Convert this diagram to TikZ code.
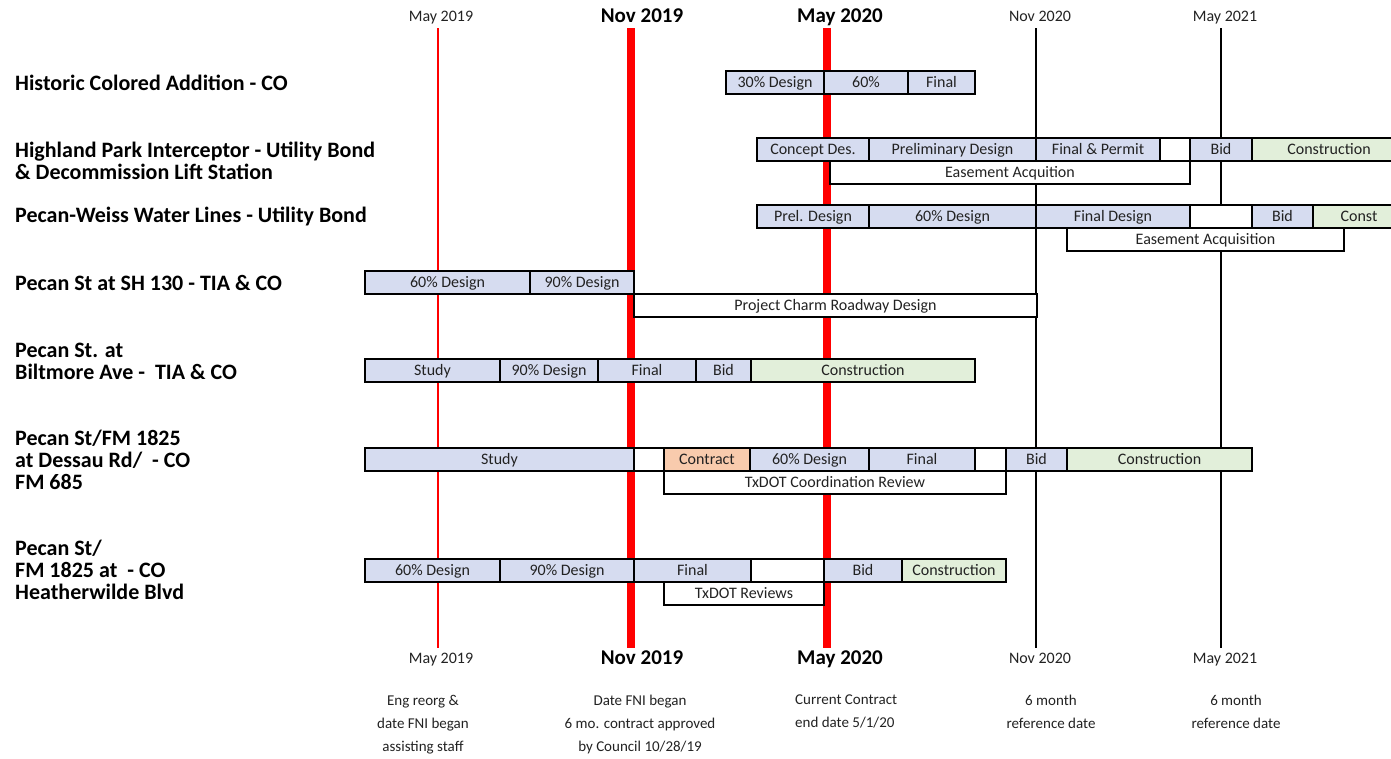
\documentclass[tikz,border=0pt]{standalone}
\usepackage{fontspec}
\setmainfont{Carlito}
\definecolor{barblue}{HTML}{D6DCF0}
\definecolor{bargreen}{HTML}{E2EFDA}
\definecolor{barorange}{HTML}{F8CBAD}
\definecolor{txt}{HTML}{222222}
\newcommand\gbar[6]{%
  \pgfmathsetmacro\gbW{#3-#2}%
  \pgfmathsetmacro\gbX{(#2+#3)/2}%
  \pgfmathsetmacro\gbY{#4+11.5}%
  \node[barbox,fill=#5,minimum width=\gbW pt] (#1) at (\gbX,\gbY) {#6};}
\tikzset{
  barbox/.style={draw=black,line width=2.6pt,minimum height=23pt,inner sep=0pt,outer sep=0pt,
    text height=11.5pt,text depth=1.3pt,
    font=\fontsize{16}{18}\selectfont,text=txt},
  proj/.style={anchor=west,align=left,inner sep=0pt,font=\bfseries\fontsize{22}{22}\selectfont},
  datesm/.style={inner sep=0pt,text height=11.5pt,text depth=1.3pt,font=\fontsize{16}{18}\selectfont,text=txt},
  datebig/.style={inner sep=0pt,text height=14pt,text depth=1.5pt,font=\bfseries\fontsize{21}{22}\selectfont},
  note/.style={inner sep=0pt,align=center,font=\fontsize{15}{23}\selectfont,text=txt},
  redthin/.style={draw=red,line width=2.5pt},
  redthick/.style={draw=red,line width=8pt},
  blackline/.style={draw=black,line width=2pt}
}
\begin{document}
\begin{tikzpicture}[x=1pt,y=-1pt]
\useasboundingbox (0,0) rectangle (1391,758);
\clip (0,0) rectangle (1391,758);
% date labels top
\node[datesm] (t1) at (441,16) {May 2019};
\node[datebig] (t2) at (642,16) {Nov 2019};
\node[datebig] (t3) at (840,16) {May 2020};
\node[datesm] (t4) at (1040,16) {Nov 2020};
\node[datesm] (t5) at (1225,16) {May 2021};
% date labels bottom
\node[datesm] (u1) at (441,658) {May 2019};
\node[datebig] (u2) at (642,658) {Nov 2019};
\node[datebig] (u3) at (840,658) {May 2020};
\node[datesm] (u4) at (1040,658) {Nov 2020};
\node[datesm] (u5) at (1225,658) {May 2021};
% vertical lines
\coordinate (l1a) at (438,28); \coordinate (l1b) at (438,648);
\coordinate (l2a) at (631,28); \coordinate (l2b) at (631,648);
\coordinate (l3a) at (827,28); \coordinate (l3b) at (827,648);
\coordinate (l4a) at (1036,28); \coordinate (l4b) at (1036,648);
\coordinate (l5a) at (1221,28); \coordinate (l5b) at (1221,648);
\draw[redthin] (l1a) -- (l1b);
\draw[redthick] (l2a) -- (l2b);
\draw[redthick] (l3a) -- (l3b);
\draw[blackline] (l4a) -- (l4b);
\draw[blackline] (l5a) -- (l5b);
% project labels
\node[proj] (p1) at (15,83) {Historic Colored Addition - CO};
\node[proj] (p2) at (15,161) {Highland Park Interceptor - Utility Bond\\\& Decommission Lift Station};
\node[proj] (p3) at (15,216) {Pecan-Weiss Water Lines - Utility Bond};
\node[proj] (p4) at (15,283) {Pecan St at SH 130 - TIA \& CO};
\node[proj] (p5) at (15,361) {Pecan St. at\\Biltmore Ave -\ \ TIA \& CO};
\node[proj] (p6) at (15,460) {Pecan St/FM 1825\\at Dessau Rd/\ \ - CO\\FM 685};
\node[proj] (p7) at (15,570) {Pecan St/\\FM 1825 at\ \ - CO\\Heatherwilde Blvd};
% row 1
\gbar{a1}{726}{824}{71}{barblue}{30\% Design}
\gbar{a2}{824}{908}{71}{barblue}{60\%}
\gbar{a3}{908}{975}{71}{barblue}{Final}
% row 2
\gbar{b7}{830}{1190}{161}{white}{Easement Acquition}
\gbar{b1}{757}{869}{138}{barblue}{Concept Des.}
\gbar{b2}{869}{1036}{138}{barblue}{Preliminary Design}
\gbar{b3}{1036}{1160}{138}{barblue}{Final \& Permit}
\gbar{b4}{1160}{1190}{138}{white}{}
\gbar{b5}{1190}{1252}{138}{barblue}{Bid}
\gbar{b6}{1252}{1406}{138}{bargreen}{Construction}
% row 3
\gbar{c7}{1067}{1344}{228}{white}{Easement Acquisition}
\gbar{c1}{757}{869}{205}{barblue}{Prel. Design}
\gbar{c2}{869}{1036}{205}{barblue}{60\% Design}
\gbar{c3}{1036}{1190}{205}{barblue}{Final Design}
\gbar{c4}{1190}{1252}{205}{white}{}
\gbar{c5}{1252}{1313}{205}{barblue}{Bid}
\gbar{c6}{1313}{1405}{205}{bargreen}{Const}
% row 4
\gbar{d3}{634}{1037}{294}{white}{Project Charm Roadway Design}
\gbar{d1}{365}{530}{271}{barblue}{60\% Design}
\gbar{d2}{530}{634}{271}{barblue}{90\% Design}
% row 5
\gbar{e1}{365}{500}{359}{barblue}{Study}
\gbar{e2}{500}{598}{359}{barblue}{90\% Design}
\gbar{e3}{598}{696}{359}{barblue}{Final}
\gbar{e4}{696}{751}{359}{barblue}{Bid}
\gbar{e5}{751}{975}{359}{bargreen}{Construction}
% row 6
\gbar{f9}{664}{1006}{471}{white}{TxDOT Coordination Review}
\gbar{f1}{365}{634}{448}{barblue}{Study}
\gbar{f2}{634}{664}{448}{white}{}
\gbar{f3}{664}{750}{448}{barorange}{Contract}
\gbar{f4}{750}{869}{448}{barblue}{60\% Design}
\gbar{f5}{869}{975}{448}{barblue}{Final}
\gbar{f6}{975}{1006}{448}{white}{}
\gbar{f7}{1006}{1067}{448}{barblue}{Bid}
\gbar{f8}{1067}{1252}{448}{bargreen}{Construction}
% row 7
\gbar{g7}{664}{824}{582}{white}{TxDOT Reviews}
\gbar{g1}{365}{500}{559}{barblue}{60\% Design}
\gbar{g2}{500}{634}{559}{barblue}{90\% Design}
\gbar{g3}{634}{751}{559}{barblue}{Final}
\gbar{g4}{751}{824}{559}{white}{}
\gbar{g5}{824}{902}{559}{barblue}{Bid}
\gbar{g6}{902}{1006}{559}{bargreen}{Construction}
% notes
\node[note,anchor=north] (n1) at (423,695) {Eng reorg \&\\date FNI began\\assisting staff};
\node[note,anchor=north] (n2) at (640,695) {Date FNI began\\6 mo. contract approved\\by Council 10/28/19};
\node[note,anchor=north west,align=left] (n3) at (795,695) {Current Contract\\end date 5/1/20};
\node[note,anchor=north] (n4) at (1051,695) {6 month\\reference date};
\node[note,anchor=north] (n5) at (1236,695) {6 month\\reference date};
\end{tikzpicture}
\end{document}
